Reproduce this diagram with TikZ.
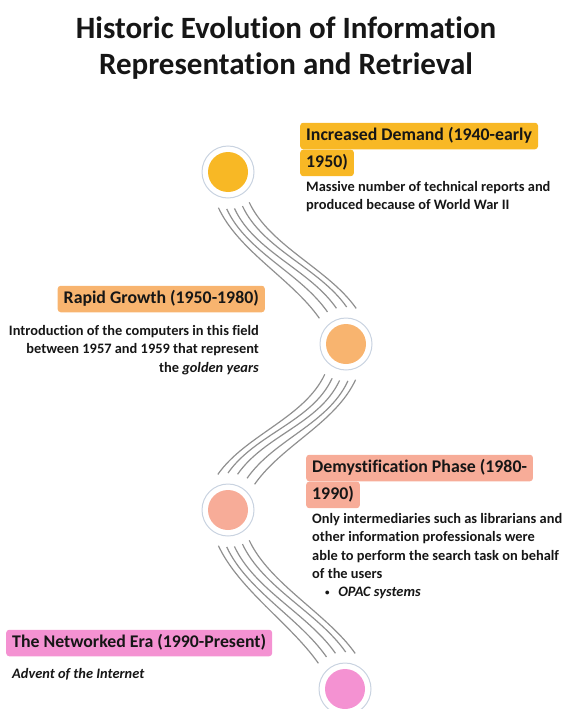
\documentclass[tikz,border=0pt]{standalone}
\usepackage{fontspec}
\setmainfont{Carlito}[Ligatures={NoCommon}]
\usetikzlibrary{positioning}
\definecolor{goldstage}{HTML}{F8B825}
\definecolor{orangestage}{HTML}{F8B46F}
\definecolor{salmonstage}{HTML}{F7AC98}
\definecolor{pinkstage}{HTML}{F492D2}
\definecolor{ringgray}{HTML}{C9D3E0}
\definecolor{wavegray}{HTML}{909090}
\definecolor{inkdark}{HTML}{161616}

\begin{document}
\begin{tikzpicture}[x=1pt, y=-1pt,
  ring/.style={circle, draw=ringgray, line width=1pt, minimum size=52pt, inner sep=0pt, outer sep=11pt,
    path picture={\fill[#1] (path picture bounding box.center) circle (20pt);}},
  era/.style={fill=#1, rounded corners=3pt, inner xsep=6pt, inner ysep=5pt, text height=12.5pt, text depth=4pt,
    text=inkdark, font=\bfseries\fontsize{17.8}{20}\selectfont},
  note/.style={inner xsep=6pt, inner ysep=0pt, text=inkdark, font=\bfseries\fontsize{14.4}{18.2}\selectfont},
  wave/.style={draw=wavegray, line width=1.2pt}]
 \useasboundingbox (0,0) rectangle (566,709);

 \node[align=center, text=inkdark, font=\bfseries\fontsize{31}{36}\selectfont] (title) at (286,48)
   {Historic Evolution of Information\\Representation and Retrieval};

 % stages
 \node[ring=goldstage] (c1) at (228,172) {};
 \node[ring=orangestage] (c2) at (346,344) {};
 \node[ring=salmonstage] (c3) at (228,510) {};
 \node[ring=pinkstage] (c4) at (345,689) {};

 \node[era=goldstage, anchor=west] (era1a) at (300,136) {Increased Demand (1940-early};
 \node[era=goldstage, below right=0pt and 0pt of era1a.south west] (era1b) {1950)};
 \node[note, align=left, below right=5pt and 0pt of era1b.south west] (note1)
   {Massive number of technical reports and\\produced because of World War II};

 \node[era=orangestage, anchor=east] (era2) at (265,299) {Rapid Growth (1950-1980)};
 \node[note, align=right, below left=13pt and 0pt of era2.south east] (note2)
   {Introduction of the computers in this field\\between 1957 and 1959 that represent\\the \textit{golden years}};

 \node[era=salmonstage, anchor=west] (era3a) at (306,468) {Demystification Phase (1980-};
 \node[era=salmonstage, below right=0pt and 0pt of era3a.south west] (era3b) {1990)};
 \node[note, align=left, below right=5pt and 0pt of era3b.south west] (note3)
   {Only intermediaries such as librarians and\\other information professionals were\\able to perform the search task on behalf\\of the users\\
    \hspace*{0.9em}\raisebox{0.5pt}{\fontsize{9}{9}\selectfont\textbullet}\hspace{0.6em}\textit{OPAC systems}};

 \node[era=pinkstage, anchor=west] (era4) at (6,643) {The Networked Era (1990-Present)};
 \node[note, align=left, below right=12pt and 0pt of era4.south west] (note4) {\textit{Advent of the Internet}};

 % wavy bundles between the stages
 \foreach \k in {0,...,4} {
   \pgfmathsetmacro\ang{-105+12.5*\k}
   \pgfmathsetmacro\bng{136-15.5*\k}
   \pgfmathsetmacro\cng{-75-12.5*\k}
   \pgfmathsetmacro\dng{44+15.5*\k}
   \draw[wave] (c1.\ang) .. controls +(-65:48pt) and +(125:48pt) .. (c2.\bng);
   \draw[wave] (c2.\cng) .. controls +(-115:48pt) and +(55:48pt) .. (c3.\dng);
   \draw[wave] (c3.\ang) .. controls +(-65:48pt) and +(125:48pt) .. (c4.\bng);
 }
\end{tikzpicture}
\end{document}
